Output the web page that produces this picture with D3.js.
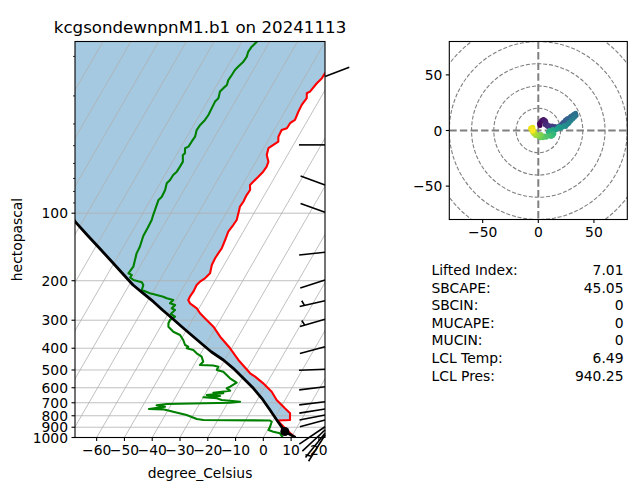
<!DOCTYPE html>
<html><head><meta charset="utf-8">
<script src="https://cdn.jsdelivr.net/npm/d3@7"></script>
<style>body{margin:0;background:#fff}text{font-family:"DejaVu Sans",sans-serif;fill:#000}</style>
</head><body><svg id="c" width="644" height="491"></svg>
<script>
// ---------------- data ----------------
const title = "kcgsondewnpnM1.b1 on 20241113";
const tempP = [1000,926,864.6,839.8,835.6,821.1,780,741.2,680.5,625,573.4,535.6,517.3,451.2,400.2,355.3,320.6,294.2,279.4,265.5,252.2,243.8,235.7,223.9,209,202,195.1,185.4,170.2,158.9,151,143.4,131.7,120.9,112.9,107.2,100,93.5,88.9,83,78.8,74.8,72.4,68.8,65.3,62,58.9,55,51.3,49.6,48,45.6,42.6,41.8,39.7,38.4,35.3,32.9,30.7,29.2,28.7,26.4,25,23.8,21,17];
const tempT = [11.4,6.9,3.1,1.6,6.0,5.6,4.6,1.7,-3.0,-6.5,-11.3,-15.6,-18.1,-25.1,-30.5,-36.5,-41.0,-45.8,-48.6,-50.8,-54.3,-55.6,-55.7,-55.5,-55.7,-55.2,-54.1,-53.3,-54.4,-54.6,-54.5,-54.3,-54.8,-55.4,-55.0,-54.8,-55.6,-56.4,-56.2,-56.4,-56.2,-57.3,-56.8,-56.0,-55.3,-55.1,-55.5,-57.5,-58.3,-57.2,-56.1,-57.1,-57.3,-55.8,-55.7,-54.6,-55.1,-55.3,-54.9,-55.9,-55.1,-54.4,-53.6,-53.5,-52.0,-50.0];
const dewP = [1000,957.8,942.1,926,895.3,850.3,839.8,835.6,827,793.8,767.4,748.9,746.5,729,718.5,709,699.6,692.5,680.5,668.7,662,653.1,646.4,635.2,631.4,618.5,603.5,593.7,569.9,544.5,526.4,508.8,500.1,483.4,477.5,475.1,459.2,436.3,421.3,407.3,400.2,393.7,386.9,367.5,349.1,337.5,320.6,309.7,299.3,289.3,281.4,270.2,265.5,256.6,252.2,243.8,239.6,235.7,231.6,227.6,220,209,203.3,198.6,193.5,188.6,185.4,173.2,161.7,151,141.1,126.4,116.4,107.2,101.9,96.8,91.9,87.3,84.4,78.8,73.6,71.1,67.6,65.3,62,58.9,55,54.1,51.3,50.5,48,45.6,42.6,40.4,38.4,36.5,34.1,31.8,30.7,28.7,27.7,26.8,25.5,24.2,23,22.2,21.1,20.1,19.1,18.1,17.2,17];
const dewT = [7.0,5.1,2.4,0.3,0.2,-0.3,-1.1,-25.2,-27.8,-32.3,-37.8,-41.9,-47.1,-41.8,-45.1,-41.7,-19.2,-15.8,-22.8,-24.9,-29.9,-24.2,-29.2,-23.6,-27.3,-21.7,-23.4,-22.5,-21.0,-24.3,-26.2,-28.1,-30.8,-30.9,-33.0,-37.9,-37.4,-39.0,-41.5,-43.4,-46.1,-45.9,-47.4,-49.1,-51.3,-54.4,-57.2,-57.9,-58.0,-56.9,-59.0,-58.3,-59.8,-59.3,-61.5,-61.0,-63.7,-65.3,-68.0,-70.8,-74.4,-74.9,-76.0,-79.5,-81.2,-81.1,-82.7,-82.3,-83.1,-83.9,-84.1,-85.1,-85.2,-85.4,-85.9,-86.3,-86.7,-87.1,-86.6,-86.8,-87.6,-87.1,-87.0,-86.4,-86.3,-86.3,-87.7,-87.3,-88.3,-87.4,-87.3,-87.1,-87.9,-87.7,-87.0,-86.8,-87.0,-87.2,-86.7,-87.5,-87.0,-86.4,-86.9,-86.7,-86.6,-86.1,-85.3,-85.1,-85.6,-85.4,-84.6,-84.5];
const parcelP = [1000,940.25,835.6,754.2,668.7,603.5,544.5,491.5,451.2,414.6,380,349.1,320.6,294.2,270.2,248,227.6,209,186.7,165.1,144.4,125.1,109.1,80,50,30,17];
const parcelT = [11.6,6.49,1.2,-3.3,-8.7,-13.8,-19.5,-25.2,-30.5,-36.6,-42.0,-47.2,-52.4,-57.6,-62.8,-67.8,-73.2,-78.6,-84.5,-90.9,-97.9,-105.5,-112.6,-125.9,-144.4,-161.9,-178.6];
const lclP = 940.25, lclT = 6.49;
// wind barbs: pressure (hPa), direction wind comes from (deg), speed (kt)
const barbP   = [24.6,49.6,74.8,99.1,149.4,198.6,245.5,297.2,393.7,496.4,593.7,692.5,746.5,793.8,835.6,895.3,926,957.8,974.7];
const barbDir = [69,270,290,290,264,252,257,254,255,268,263,263,261,259,255,236,227,219,212];
const barbSpd = [2,2,2,2,2,2,5,5,2,2,2,2,2,2,2,2,2,2,5];
// hodograph (u, v)
const hodoU = [1.5,1,2,3,4.5,5.5,6.5,7,6,7.5, 8.5,9.5,11,12.5,13.5,15,16.5,18,19.5,21, 22,23.5,24.5,26,27.5,29,30.5,32,33.5,34,32.5,31, 29.5,28,27,25.5,24.5,23,21.5,20, 19,17.5,16,14.5,13,11.5,10,9,12,14, 13,11.5,10,8.5,7,5.5,4,3,2,1,2.5,0.5, -0.5,-1.5,-2.5,-3,-4,-3.5, -5,-5.5,-6.5,-6,-5,-7,-4.5,-5];
const hodoV = [4.5,6,7.5,9,10,9.5,8.5,7,5.5,4.5, 3.5,4.5,3.5,4,2.5,3.5,2.5,3.5,4.5,5.5, 7,8,9.5,10.5,11,12.5,13.5,14.5,15.5,13.5,12,10.5, 9,7.5,6,5,3.5,4.5,3,2, 3.5,2.5,1,0,1,-1,0,-1.5,-2,-3, -4.5,-5.5,-4,-5,-6,-5,-6.5,-5,-6.5,-5.5,-3.5,-4, -5,-3.5,-4.5,-2.5,-3,-1, -1.5,0,1,2.5,3,2,1,-0.5];
const indexLabels = ["Lifted Index:","SBCAPE:","SBCIN:","MUCAPE:","MUCIN:","LCL Temp:","LCL Pres:"];
const indexValues = ["7.01","45.05","0","0","0","6.49","940.25"];
const xTicks = [-60,-50,-40,-30,-20,-10,0,10,20];
const yTicks = [100,200,300,400,500,600,700,800,900,1000];
const yMinorTicks = [20,30,40,50,60,70,80,90];
const hodoTicks = [-50,0,50];
const hodoRings = [20,40,60,80,100];

// ---------------- layout ----------------
const svg = d3.select("#c");
const FS = 13.89;
const ax = {l:75, r:325, t:41.5, b:437.5};
const xS = d3.scaleLinear().domain([-67.8,22.2]).range([ax.l, ax.r]);
const yS = d3.scaleLog().domain([1000,100]).range([ax.b,213.2]);
const SK = Math.tan(30*Math.PI/180);
const X = (T,p) => xS(T) + SK*(ax.b - yS(p));
const minus = v => (v<0? "\u2212"+Math.abs(v) : ""+v);

const defs = svg.append("defs");
defs.append("clipPath").attr("id","clipSkew").append("rect")
  .attr("x",ax.l).attr("y",ax.t).attr("width",ax.r-ax.l).attr("height",ax.b-ax.t);

const g = svg.append("g").attr("clip-path","url(#clipSkew)");

// CIN shading between parcel and environment
const fillPts = [];
tempP.forEach((p,i)=>{ if(p<=839.8) fillPts.push([X(tempT[i],p), yS(p)]); });
for(let i=parcelP.length-1;i>=0;i--){ const p=parcelP[i]; if(p<=839.8) fillPts.push([X(parcelT[i],p), yS(p)]); }
g.append("path").attr("d", d3.line()(fillPts)+"Z").attr("fill","#1f77b4").attr("fill-opacity",0.4).attr("stroke","none");

// grid
yTicks.forEach(p=>{
  g.append("line").attr("x1",ax.l).attr("x2",ax.r).attr("y1",yS(p)).attr("y2",yS(p))
   .attr("stroke","#b0b0b0").attr("stroke-width",0.8);
});
for(let T=-250; T<=30; T+=10){
  g.append("line").attr("x1",xS(T)).attr("y1",ax.b).attr("x2",xS(T)+SK*(ax.b-ax.t)).attr("y2",ax.t)
   .attr("stroke","#b0b0b0").attr("stroke-width",0.8);
}

const line = d3.line();
const prof = (P,T)=>P.map((p,i)=>[X(T[i],p), yS(p)]);
g.append("path").attr("d",line(prof(tempP,tempT))).attr("fill","none").attr("stroke","red").attr("stroke-width",2.1).attr("stroke-linejoin","round");
g.append("path").attr("d",line(prof(dewP,dewT))).attr("fill","none").attr("stroke","green").attr("stroke-width",2.1).attr("stroke-linejoin","round");
g.append("path").attr("d",line(prof(parcelP,parcelT))).attr("fill","none").attr("stroke","black").attr("stroke-width",2.8).attr("stroke-linejoin","round");
g.append("circle").attr("cx",X(lclT,lclP)).attr("cy",yS(lclP)).attr("r",4.5).attr("fill","black");

// frame
svg.append("rect").attr("x",ax.l).attr("y",ax.t).attr("width",ax.r-ax.l).attr("height",ax.b-ax.t)
  .attr("fill","none").attr("stroke","black").attr("stroke-width",1.1);

// y ticks
yTicks.forEach(p=>{
  const y=yS(p);
  svg.append("line").attr("x1",ax.l-3.5).attr("x2",ax.l).attr("y1",y).attr("y2",y).attr("stroke","black").attr("stroke-width",1.1);
  svg.append("text").attr("x",ax.l-7).attr("y",y).attr("dy","0.36em").attr("text-anchor","end").attr("font-size",FS).text(p);
});
yMinorTicks.forEach(p=>{
  const y=yS(p);
  svg.append("line").attr("x1",ax.l-2).attr("x2",ax.l).attr("y1",y).attr("y2",y).attr("stroke","black").attr("stroke-width",0.8);
});
// x ticks
xTicks.forEach(T=>{
  const x=xS(T);
  svg.append("line").attr("x1",x).attr("x2",x).attr("y1",ax.b).attr("y2",ax.b+3.5).attr("stroke","black").attr("stroke-width",1.1);
  svg.append("text").attr("x",x).attr("y",ax.b+17.5).attr("text-anchor","middle").attr("font-size",FS).text(minus(T));
});
svg.append("text").attr("x",(ax.l+ax.r)/2).attr("y",477.5).attr("text-anchor","middle").attr("font-size",FS).text("degree_Celsius");
svg.append("text").attr("transform",`translate(21.5,${(ax.t+ax.b)/2}) rotate(-90)`).attr("text-anchor","middle").attr("font-size",FS).text("hectopascal");
svg.append("text").attr("x",(ax.l+ax.r)/2).attr("y",33).attr("text-anchor","middle").attr("font-size",16.67).text(title);

// wind barbs at right edge (staff toward the direction the wind comes from)
barbP.forEach((p,i)=>{
  const x0=ax.r, y0=yS(p), a=barbDir[i]*Math.PI/180;
  const ux=Math.sin(a), uy=-Math.cos(a);
  const L = i>=15 ? 31 : 26;
  const pxp=-uy, pyp=ux;            // side on which ticks are drawn
  const pts=[[x0,y0],[x0+L*ux,y0+L*uy]];
  svg.append("path").attr("d",d3.line()(pts)).attr("fill","none").attr("stroke","black").attr("stroke-width",1.6);
  if(barbSpd[i]>=5){
    const d=L*0.81, bx=x0+d*ux, by=y0+d*uy;
    svg.append("path").attr("d",d3.line()([[bx,by],[bx+0.0625*L*ux+0.2*L*pxp, by+0.0625*L*uy+0.2*L*pyp]]))
      .attr("fill","none").attr("stroke","black").attr("stroke-width",1.6);
  }
});

// ---------------- hodograph ----------------
const hb = {l:449.3, r:627.3, t:41.5, b:219.5};
const hx = d3.scaleLinear().domain([-80,80]).range([hb.l,hb.r]);
const hy = d3.scaleLinear().domain([-80,80]).range([hb.b,hb.t]);
defs.append("clipPath").attr("id","clipHodo").append("rect")
  .attr("x",hb.l).attr("y",hb.t).attr("width",hb.r-hb.l).attr("height",hb.b-hb.t);
const hg = svg.append("g").attr("clip-path","url(#clipHodo)");
hodoRings.forEach(r=>{
  hg.append("circle").attr("cx",hx(0)).attr("cy",hy(0)).attr("r",hx(r)-hx(0))
    .attr("fill","none").attr("stroke","#808080").attr("stroke-width",1.1).attr("stroke-dasharray","4,1.8");
});
hg.append("line").attr("x1",hb.l).attr("x2",hb.r).attr("y1",hy(0)).attr("y2",hy(0))
  .attr("stroke","#808080").attr("stroke-width",2.0).attr("stroke-dasharray","7.4,3.2");
hg.append("line").attr("y1",hb.t).attr("y2",hb.b).attr("x1",hx(0)).attr("x2",hx(0))
  .attr("stroke","#808080").attr("stroke-width",2.0).attr("stroke-dasharray","7.4,3.2");
const n = hodoU.length;
hodoU.forEach((u,i)=>{
  hg.append("circle").attr("cx",hx(u)).attr("cy",hy(hodoV[i])).attr("r",2.5)
    .attr("fill",d3.interpolateViridis(i/(n-1)));
});
svg.append("rect").attr("x",hb.l).attr("y",hb.t).attr("width",hb.r-hb.l).attr("height",hb.b-hb.t)
  .attr("fill","none").attr("stroke","black").attr("stroke-width",1.1);
hodoTicks.forEach(t=>{
  svg.append("line").attr("x1",hx(t)).attr("x2",hx(t)).attr("y1",hb.b).attr("y2",hb.b+3.5).attr("stroke","black").attr("stroke-width",1.1);
  svg.append("text").attr("x",hx(t)).attr("y",hb.b+17.5).attr("text-anchor","middle").attr("font-size",FS).text(minus(t));
  svg.append("line").attr("x1",hb.l-3.5).attr("x2",hb.l).attr("y1",hy(t)).attr("y2",hy(t)).attr("stroke","black").attr("stroke-width",1.1);
  svg.append("text").attr("x",hb.l-7).attr("y",hy(t)).attr("dy","0.36em").attr("text-anchor","end").attr("font-size",FS).text(minus(t));
});

// ---------------- indices ----------------
indexLabels.forEach((lab,i)=>{
  const y = 270 + i*17.6;
  svg.append("text").attr("x",431.5).attr("y",y).attr("dy","0.36em").attr("font-size",FS).text(lab);
  svg.append("text").attr("x",623.5).attr("y",y).attr("dy","0.36em").attr("text-anchor","end").attr("font-size",FS).text(indexValues[i]);
});
</script></body></html>
